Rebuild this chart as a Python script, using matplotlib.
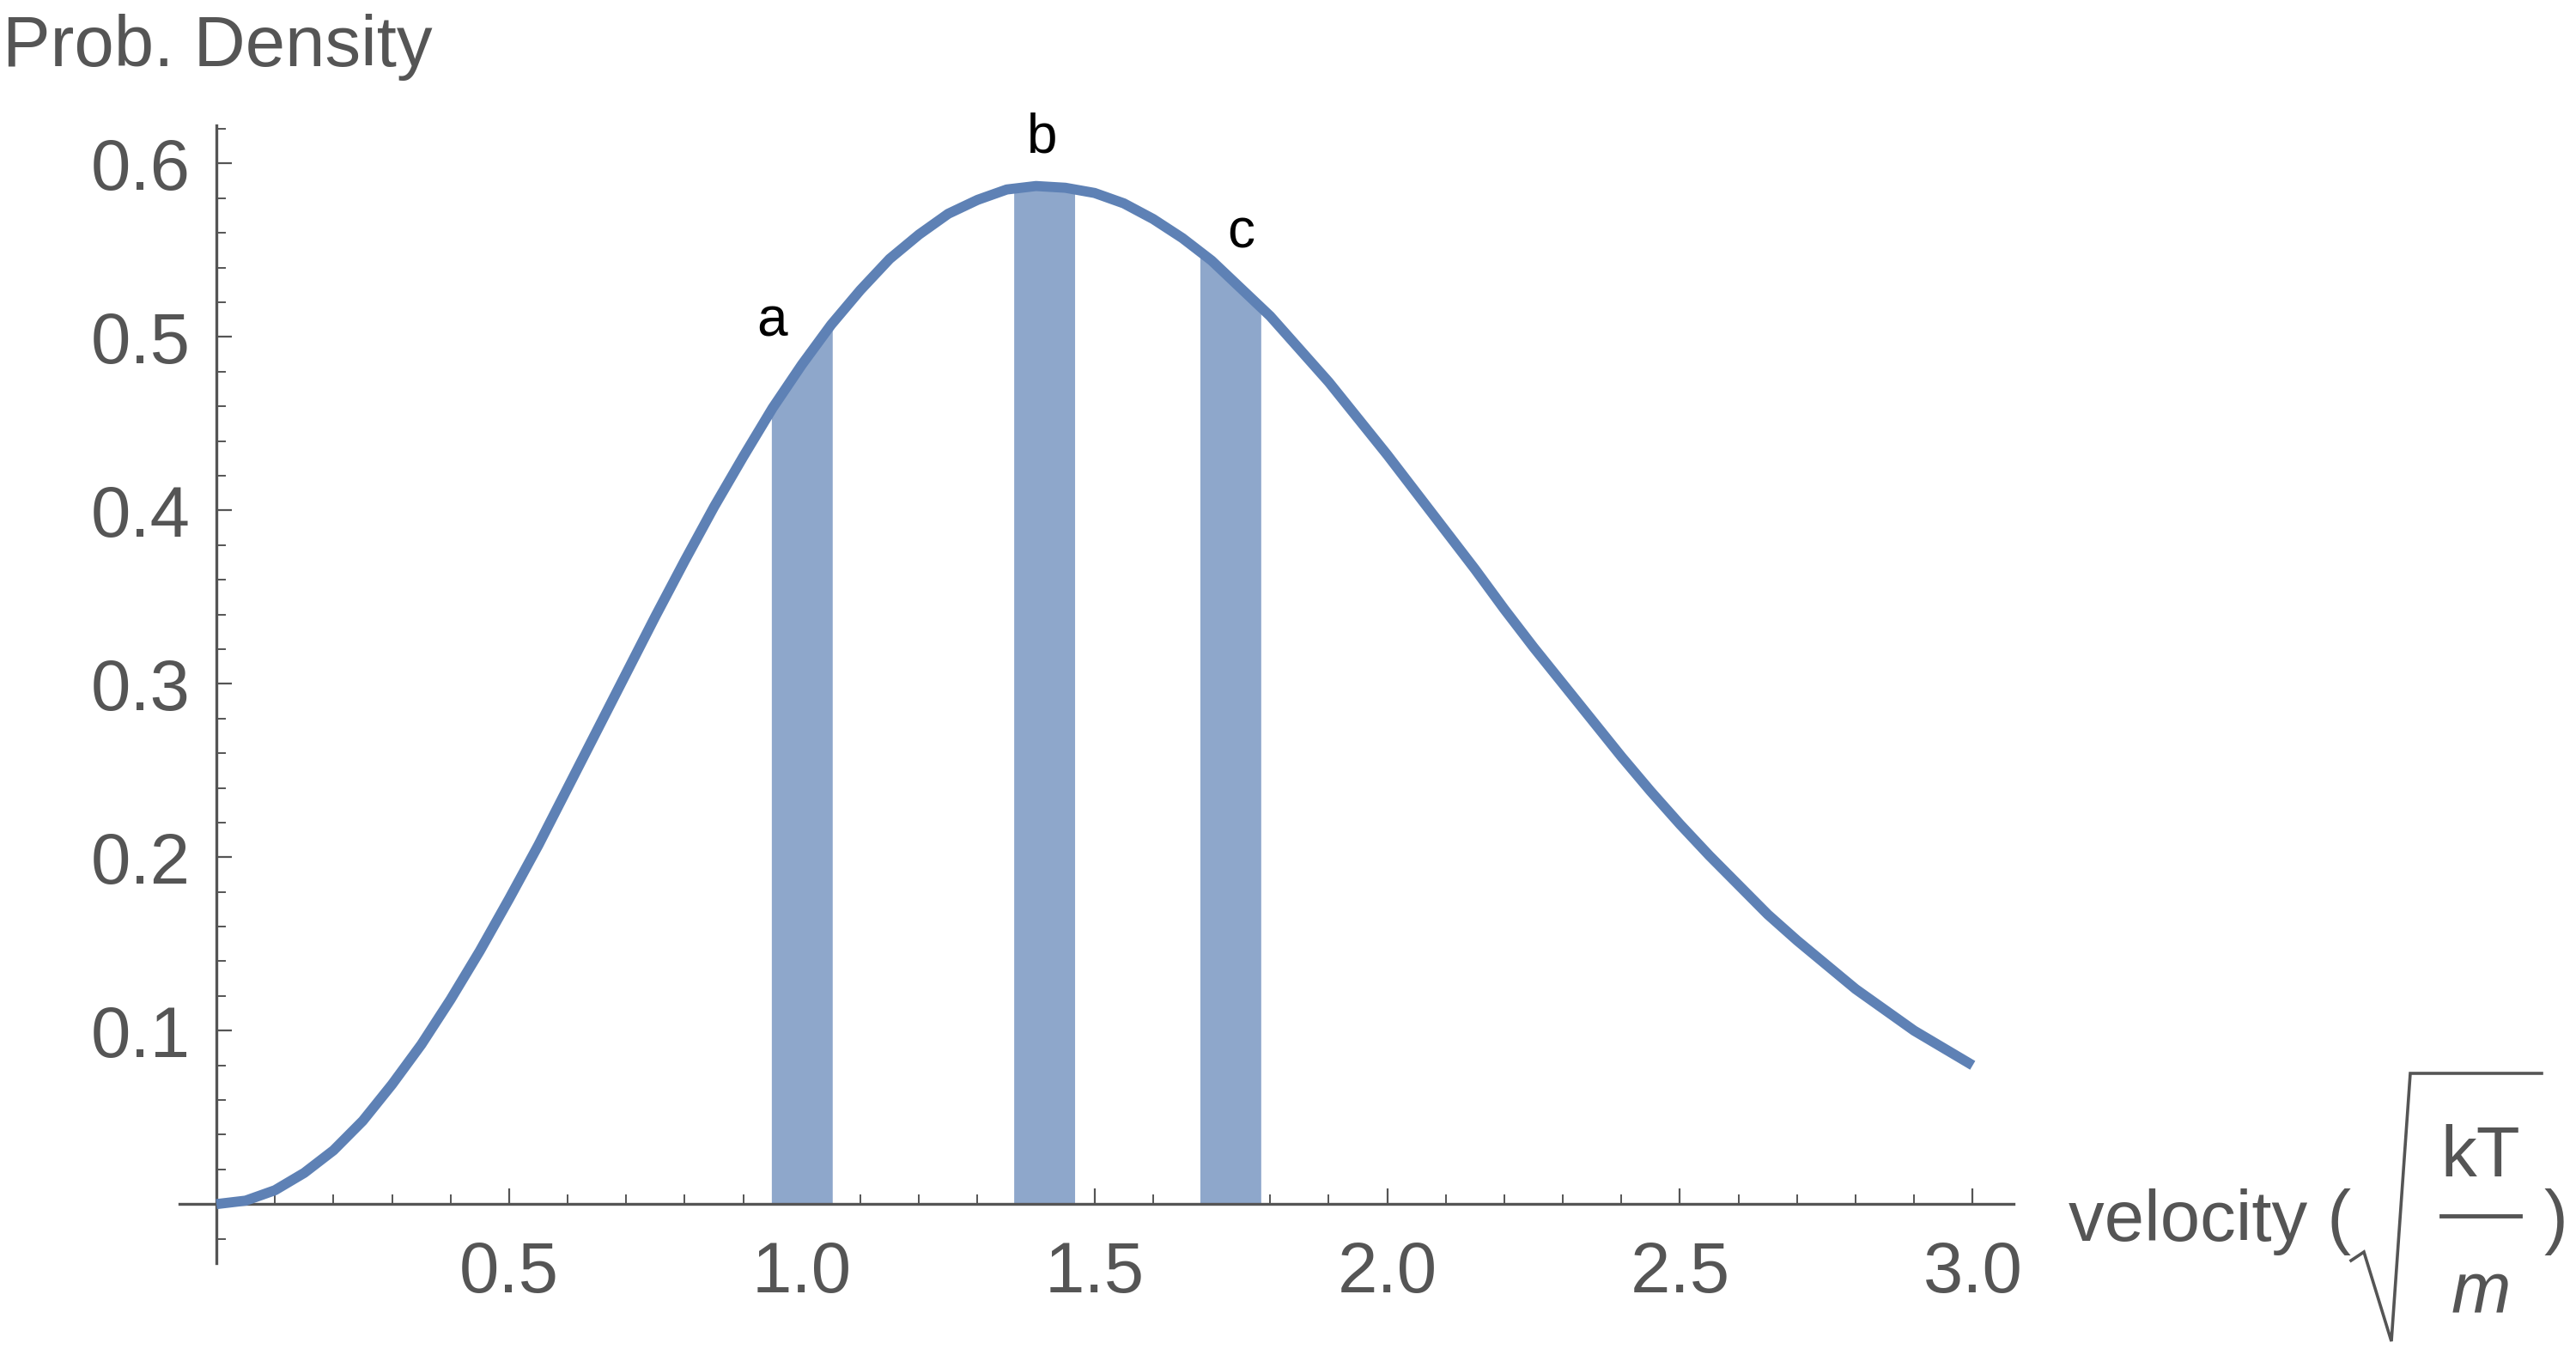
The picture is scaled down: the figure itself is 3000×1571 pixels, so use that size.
import matplotlib
matplotlib.use("Agg")
import matplotlib.pyplot as plt
from matplotlib.lines import Line2D

plt.rcParams['font.family'] = ['Liberation Sans', 'DejaVu Sans']

# speed (units of sqrt(kT/m)) and probability density
velocity = [0.00, 0.05, 0.10, 0.15, 0.20, 0.25, 0.30, 0.35, 0.40, 0.45,
            0.50, 0.55, 0.60, 0.65, 0.70, 0.75, 0.80, 0.85, 0.90, 0.95,
            1.00, 1.05, 1.10, 1.15, 1.20, 1.25, 1.30, 1.35, 1.40, 1.45,
            1.50, 1.55, 1.60, 1.65, 1.70, 1.75, 1.80, 1.85, 1.90, 1.95,
            2.00, 2.05, 2.10, 2.15, 2.20, 2.25, 2.30, 2.35, 2.40, 2.45,
            2.50, 2.55, 2.60, 2.65, 2.70, 2.75, 2.80, 2.85, 2.90, 2.95, 3.00]
density = [0.000, 0.002, 0.008, 0.018, 0.031, 0.048, 0.069, 0.092, 0.118, 0.146,
           0.176, 0.207, 0.240, 0.273, 0.306, 0.339, 0.371, 0.402, 0.431, 0.459,
           0.484, 0.507, 0.527, 0.545, 0.559, 0.571, 0.579, 0.585, 0.587, 0.586,
           0.583, 0.577, 0.568, 0.557, 0.544, 0.528, 0.512, 0.493, 0.474, 0.453,
           0.432, 0.410, 0.388, 0.366, 0.343, 0.321, 0.300, 0.279, 0.258, 0.238,
           0.219, 0.201, 0.184, 0.167, 0.152, 0.138, 0.124, 0.112, 0.100, 0.090, 0.080]

# shaded strips: left edge / centre / right edge and the curve height there
bar_names = ['a', 'b', 'c']
bar_x = [[0.948, 1.000, 1.052],
         [1.362, 1.414, 1.466],
         [1.680, 1.732, 1.784]]
bar_y = [[0.458, 0.484, 0.508],
         [0.585, 0.587, 0.585],
         [0.549, 0.534, 0.517]]
label_x = [0.949, 1.411, 1.750]
label_y = [0.509, 0.615, 0.560]

x_major = [0.5, 1.0, 1.5, 2.0, 2.5, 3.0]
x_labels = ['0.5', '1.0', '1.5', '2.0', '2.5', '3.0']
x_minor = [0.1, 0.2, 0.3, 0.4, 0.6, 0.7, 0.8, 0.9, 1.1, 1.2, 1.3, 1.4,
           1.6, 1.7, 1.8, 1.9, 2.1, 2.2, 2.3, 2.4, 2.6, 2.7, 2.8, 2.9]
y_major = [0.1, 0.2, 0.3, 0.4, 0.5, 0.6]
y_labels = ['0.1', '0.2', '0.3', '0.4', '0.5', '0.6']
y_minor = [-0.02, 0.02, 0.04, 0.06, 0.08, 0.12, 0.14, 0.16, 0.18,
           0.22, 0.24, 0.26, 0.28, 0.32, 0.34, 0.36, 0.38,
           0.42, 0.44, 0.46, 0.48, 0.52, 0.54, 0.56, 0.58, 0.62]

line_color = '#5E81B5'
fill_color = '#8EA7CB'
axis_color = '#555555'

W, H = 3000, 1571


def fx(px):
    return px / W


def fy(py):
    return 1 - py / H


fig = plt.figure(figsize=(30, 15.71), dpi=100)
ax = fig.add_axes([0.0697, 0.0637, 0.712, 0.8434])
ax.set_xlim(-0.063, 3.07)
ax.set_ylim(-0.034, 0.622)

for s in ['top', 'right']:
    ax.spines[s].set_visible(False)
for s in ['left', 'bottom']:
    ax.spines[s].set_position(('data', 0))
    ax.spines[s].set_color(axis_color)
    ax.spines[s].set_linewidth(2.4)

ax.set_xticks(x_major)
ax.set_xticklabels(x_labels)
ax.set_xticks(x_minor, minor=True)
ax.set_yticks(y_major)
ax.set_yticklabels(y_labels)
ax.set_yticks(y_minor, minor=True)
ax.tick_params(which='both', direction='in', color=axis_color,
               labelcolor=axis_color, labelsize=60)
ax.tick_params(which='major', length=13, width=1.6)
ax.tick_params(which='minor', length=8, width=1.4)
ax.tick_params(axis='x', which='major', pad=30)
ax.tick_params(axis='y', which='major', pad=22)

for xs, ys in zip(bar_x, bar_y):
    ax.fill_between(xs, 0, ys, color=fill_color, lw=0, zorder=2)

ax.plot(velocity, density, color=line_color, lw=8.5, solid_capstyle='butt',
        solid_joinstyle='round', zorder=3, clip_on=False)

for name, lx, ly in zip(bar_names, label_x, label_y):
    ax.text(lx, ly, name, ha='center', va='center', fontsize=46, color='black')

# axis label: velocity ( sqrt(kT/m) )
fig.text(fx(2409), fy(1445), 'velocity (', ha='left', va='baseline',
         fontsize=60, color=axis_color)
fig.text(fx(2889), fy(1370), 'kT', ha='center', va='baseline',
         fontsize=60, color=axis_color)
fig.text(fx(2889), fy(1528), 'm', ha='center', va='baseline',
         fontsize=60, color=axis_color, style='italic')
fig.text(fx(2962), fy(1445), ')', ha='left', va='baseline',
         fontsize=60, color=axis_color)
fig.add_artist(Line2D([fx(2843), fx(2935)], [fy(1416), fy(1416)],
                      transform=fig.transFigure, color=axis_color, lw=3.5))
rad_px = [2738, 2753, 2785, 2807, 2960]
rad_py = [1468, 1458, 1562, 1250, 1250]
fig.add_artist(Line2D([fx(p) for p in rad_px], [fy(p) for p in rad_py],
                      transform=fig.transFigure, color=axis_color, lw=2.6,
                      solid_joinstyle='miter'))

fig.text(0.001, 0.990, 'Prob. Density', ha='left', va='top',
         fontsize=60, color=axis_color)

fig.savefig('out.png', dpi=100, facecolor='white')
